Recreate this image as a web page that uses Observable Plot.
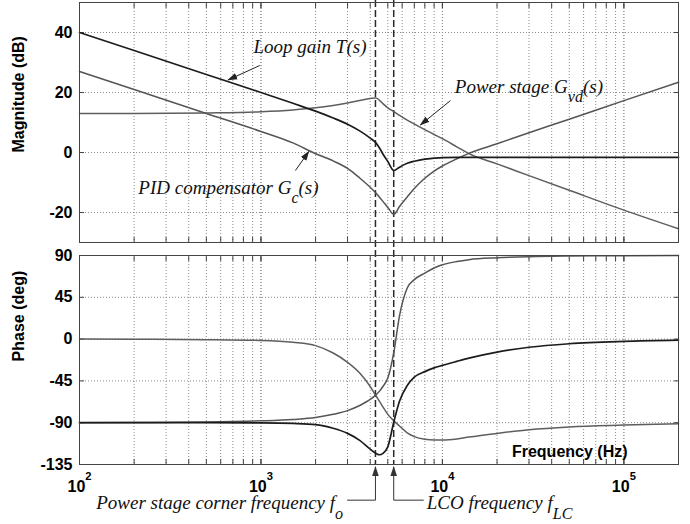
<!DOCTYPE html>
<html>
<head>
<meta charset="utf-8">
<script src="https://cdn.jsdelivr.net/npm/d3@7"></script>
<script src="https://cdn.jsdelivr.net/npm/@observablehq/plot@0.6"></script>
<style>
  html, body { margin: 0; padding: 0; background: #fff; }
  #chart { position: relative; width: 690px; height: 524px; overflow: hidden; background: #fff; }
  #chart svg { position: absolute; left: 0; }
</style>
</head>
<body>
<div id="chart"></div>
<script>
// Frequency samples (Hz)
const freq = [100, 200, 500, 1000, 1500, 2000, 2500, 3000, 3500, 4000, 4300, 4500, 4700, 5000,
  5400, 5800, 6400, 7000, 8000, 9000, 10000, 12000, 14000, 20000, 30000, 50000, 100000, 200000];

// Magnitude (dB)
const magLoop = [40, 34, 26, 20, 16.4, 13.8, 11.5, 9.4, 7.2, 4.8, 3.2, 1.5, -0.5, -3.0,
  -6.0, -4.9, -3.6, -2.9, -2.2, -1.9, -1.7, -1.6, -1.6, -1.6, -1.6, -1.6, -1.6, -1.6];
const magPid = [27, 21, 13, 7, 3.2, -0.4, -2.8, -5.3, -8.5, -11.6, -13.5, -14.9, -16.3, -18.3,
  -20.6, -18.0, -14.8, -12.0, -8.6, -6.2, -4.5, -2.1, -0.3, 2.9, 6.6, 11.1, 17.3, 23.4];
const magPower = [13, 13, 13.2, 13.6, 14.2, 14.9, 15.7, 16.5, 17.3, 18.0, 18.2, 17.4, 16.3, 14.9,
  13.6, 12.4, 10.8, 9.5, 7.6, 6.0, 4.6, 1.9, -0.4, -3.8, -7.7, -12.6, -19.2, -25.4];

// Phase (deg)
const phaseLoop = [-90, -90, -90, -90.2, -90.8, -92, -96, -101.5, -109, -118.5, -123, -124.5, -123, -116,
  -89, -67, -50, -41, -35, -31, -28.3, -24, -20.5, -14, -8.8, -5, -2.5, -1.2];
const phasePid = [-90, -89.8, -89.3, -88, -86.5, -84.5, -81, -77, -71.5, -65, -60, -56, -51, -42,
  -14, 25, 55, 64, 71, 76.5, 80, 83.5, 85.5, 87.5, 88.7, 89.4, 89.8, 90];
const phasePower = [0, -0.2, -0.6, -1.5, -3.5, -7, -15, -25, -36.5, -51, -61, -67, -73, -81,
  -88, -93.5, -101, -105, -107.8, -108.6, -108.6, -107.5, -105.5, -101.5, -97.5, -94.5, -92.5, -91];

// Marked frequencies: power stage corner f_o and LCO frequency f_LC (Hz)
const markerFreqs = [4275, 5390];
const markerNames = ["Power stage corner frequency f_{o}", "LCO frequency f_{LC}"];
const curveNames = ["Loop gain T(s)", "Power stage G_{vd}(s)", "PID compensator G_{c}(s)"];

// Axis ticks
const decadeTicks = [100, 1000, 10000, 100000];
const magTicks = [-20, 0, 20, 40];
const phaseTicks = [-135, -90, -45, 0, 45, 90];
const gridFreqs = [2, 3, 4, 5]
  .flatMap(e => d3.range(1, 10).map(m => m * 10 ** e))
  .filter(f => f > 100 && f < 200000);

const rows = vals => freq.map((f, i) => ({f, v: vals[i]}));

const SANS = "'Liberation Sans', Arial, Helvetica, sans-serif";
const SERIF = "'Liberation Serif', 'Times New Roman', serif";
const FRAME = "#444";
const gridStyle = {stroke: "#8c8c8c", strokeOpacity: 1, strokeDasharray: "1,2"};
const labelStyle = {fontFamily: SERIF, fontStyle: "italic", fontSize: 19, fill: "#111"};
const boldStyle = {fontFamily: SANS, fontWeight: "bold", fontSize: 16, fill: "#000"};
const dashStyle = {stroke: "#2a2a2a", strokeWidth: 1.5, strokeDasharray: "7,3"};
const xScale = {type: "log", domain: [100, 200000], axis: null};
const plain = d => `${d}`;

// Inner tick marks on all four sides of a panel
function boxTicks(yTicks) {
  const o = {tickSize: -5, fill: "none", stroke: FRAME, label: null};
  return [
    Plot.axisX(gridFreqs.concat(decadeTicks), {anchor: "bottom", ...o}),
    Plot.axisX(gridFreqs.concat(decadeTicks), {anchor: "top", ...o}),
    Plot.axisY(yTicks, {anchor: "left", ...o}),
    Plot.axisY(yTicks, {anchor: "right", ...o})
  ];
}

// Magnitude panel
const magPlot = Plot.plot({
  width: 690, height: 250,
  marginLeft: 79, marginRight: 12, marginTop: 2, marginBottom: 8,
  style: {fontFamily: SANS, background: "transparent", overflow: "visible"},
  x: xScale,
  y: {domain: [-30, 50], axis: null},
  marks: [
    Plot.gridX(gridFreqs.concat(decadeTicks), gridStyle),
    Plot.gridY(magTicks, gridStyle),
    ...boxTicks(magTicks),
    Plot.axisY(magTicks, {anchor: "left", tickSize: 0, tickPadding: 7, label: null, tickFormat: plain, ...boldStyle}),
    Plot.text(["Magnitude (dB)"], {text: d => d, y: 0, frameAnchor: "left", dx: -61, rotate: -90, ...boldStyle}),
    Plot.ruleX(markerFreqs, {...dashStyle, insetTop: -2, insetBottom: -8}),
    Plot.line(rows(magPower), {x: "f", y: "v", stroke: "#5e5e5e", strokeWidth: 1.5, curve: "monotone-x"}),
    Plot.line(rows(magPid), {x: "f", y: "v", stroke: "#555", strokeWidth: 1.5, curve: "monotone-x"}),
    Plot.line(rows(magLoop), {x: "f", y: "v", stroke: "#1c1c1c", strokeWidth: 1.7, curve: "monotone-x"}),
    Plot.frame({stroke: FRAME}),
    // curve labels with pointer arrows
    Plot.text([curveNames[0]], {text: d => d, x: 910, y: 33.3, textAnchor: "start", lineAnchor: "bottom", ...labelStyle}),
    Plot.link([0], {x1: 985, y1: 29, x2: 660, y2: 24.2, stroke: "#222", strokeWidth: 1, markerEnd: "arrow"}),
    Plot.text([curveNames[1]], {text: d => d, x: 11700, y: 20, textAnchor: "start", lineAnchor: "bottom", ...labelStyle}),
    Plot.link([0], {x1: 11070, y1: 17.3, x2: 7570, y2: 9.2, stroke: "#222", strokeWidth: 1, markerEnd: "arrow"}),
    Plot.text([curveNames[2]], {text: d => d, x: 211, y: -13.7, textAnchor: "start", lineAnchor: "bottom", ...labelStyle}),
    Plot.link([0], {x1: 1549, y1: -6, x2: 1834, y2: 0.3, stroke: "#222", strokeWidth: 1, markerEnd: "arrow"})
  ]
});

// Phase panel
const phasePlot = Plot.plot({
  width: 690, height: 274,
  marginLeft: 79, marginRight: 12, marginTop: 5, marginBottom: 60,
  style: {fontFamily: SANS, background: "transparent", overflow: "visible"},
  x: xScale,
  y: {domain: [-135, 90], axis: null},
  marks: [
    Plot.gridX(gridFreqs.concat(decadeTicks), gridStyle),
    Plot.gridY(phaseTicks, gridStyle),
    ...boxTicks(phaseTicks),
    Plot.axisY(phaseTicks, {anchor: "left", tickSize: 0, tickPadding: 7, label: null, tickFormat: plain, ...boldStyle}),
    Plot.axisX(decadeTicks, {anchor: "bottom", tickSize: 0, tickPadding: 16, label: null,
      tickFormat: d => `10^{${Math.round(Math.log10(d))}}`, ...boldStyle}),
    Plot.text(["Phase (deg)"], {text: d => d, y: -24, frameAnchor: "left", dx: -61, rotate: -90, ...boldStyle}),
    Plot.text(["Frequency (Hz)"], {text: d => d, x: 50300, y: -121.8, lineAnchor: "middle", ...boldStyle}),
    Plot.ruleX(markerFreqs, {...dashStyle, insetTop: -5, insetBottom: 0}),
    Plot.line(rows(phasePower), {x: "f", y: "v", stroke: "#5e5e5e", strokeWidth: 1.5, curve: "monotone-x"}),
    Plot.line(rows(phasePid), {x: "f", y: "v", stroke: "#555", strokeWidth: 1.5, curve: "monotone-x"}),
    Plot.line(rows(phaseLoop), {x: "f", y: "v", stroke: "#1c1c1c", strokeWidth: 1.7, curve: "monotone-x"}),
    Plot.frame({stroke: FRAME}),
    // pointers to the two marked frequencies, below the axis
    Plot.link(markerFreqs, {x1: d => d, x2: d => d, y1: -173.4, y2: -137.6, stroke: "#333", strokeWidth: 1, markerEnd: "arrow"}),
    Plot.link([0], {x1: 2985, x2: markerFreqs[0], y1: -173.4, y2: -173.4, stroke: "#333", strokeWidth: 1}),
    Plot.link([0], {x1: markerFreqs[1], x2: 7890, y1: -173.4, y2: -173.4, stroke: "#333", strokeWidth: 1}),
    Plot.text([markerNames[0]], {text: d => d, x: 2985, y: -183, dx: -4, textAnchor: "end", lineAnchor: "bottom", ...labelStyle}),
    Plot.text([markerNames[1]], {text: d => d, x: 7890, y: -183, dx: 3, textAnchor: "start", lineAnchor: "bottom", ...labelStyle})
  ]
});

// Filled triangular arrowheads
function fillArrowheads(svg) {
  d3.select(svg).selectAll("marker").each(function () {
    const m = d3.select(this);
    const color = m.attr("stroke") || "#222";
    m.attr("viewBox", "-9 -4 10 8")
      .attr("markerWidth", 10)
      .attr("markerHeight", 8)
      .attr("fill", color)
      .attr("stroke", "none");
    m.selectAll("path").attr("d", "M-9,-3.3L1,0L-9,3.3Z").attr("stroke", "none").attr("fill", color);
  });
}

// Turn _{...} and ^{...} into sub- and superscript tspans
function applyScripts(svg) {
  d3.select(svg).selectAll("text").each(function () {
    const src = this.textContent;
    if (!/[_^]\{/.test(src)) return;
    const size = parseFloat(getComputedStyle(this).fontSize) || 16;
    const sel = d3.select(this).text(null);
    const re = /([_^])\{([^}]*)\}/g;
    let last = 0, shift = 0, m;
    const add = (str, off, scale) => {
      const t = sel.append("tspan").text(str);
      const dy = off - shift;
      if (dy) t.attr("dy", dy);
      if (scale !== 1) t.attr("font-size", size * scale);
      shift = off;
    };
    while ((m = re.exec(src))) {
      if (m.index > last) add(src.slice(last, m.index), 0, 1);
      if (m[1] === "^") add(m[2], -0.72 * size, 0.7);
      else add(m[2], 0.5 * size, 0.85);
      last = re.lastIndex;
    }
    if (last < src.length) add(src.slice(last), 0, 1);
  });
}

const chart = document.getElementById("chart");
magPlot.style.top = "0px";
phasePlot.style.top = "250px";
chart.append(magPlot, phasePlot);
for (const svg of [magPlot, phasePlot]) {
  fillArrowheads(svg);
  applyScripts(svg);
}
</script>
</body>
</html>
